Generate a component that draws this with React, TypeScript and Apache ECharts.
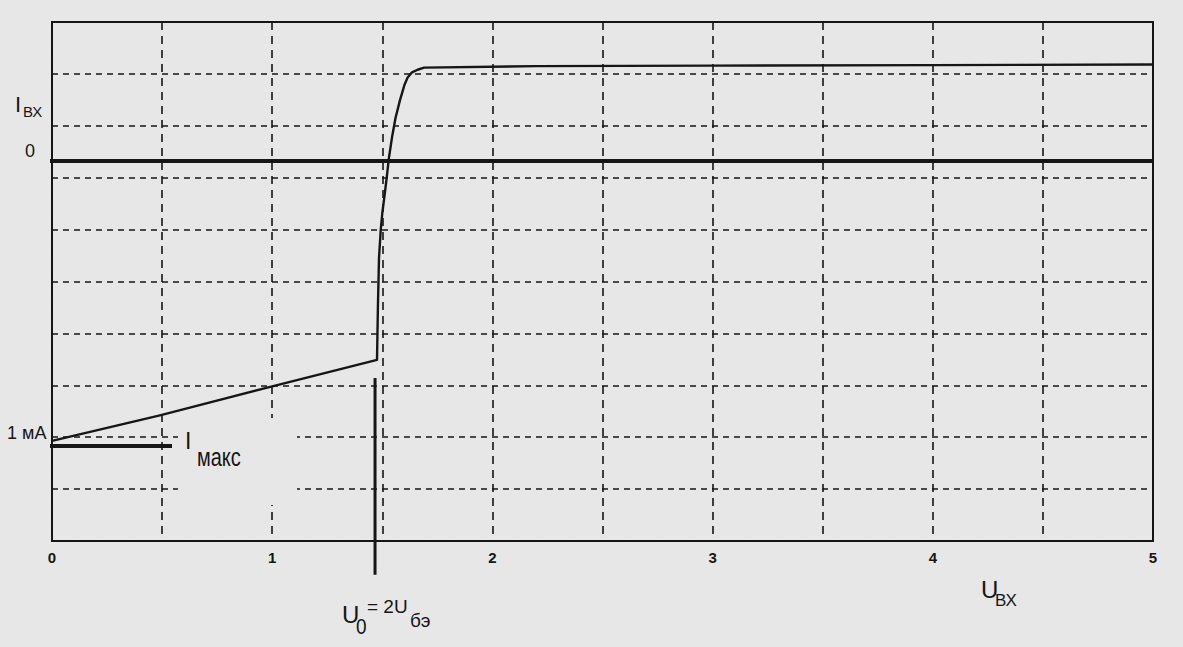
import React, { useEffect, useRef } from "react";
import * as echarts from "echarts";

// X axis: input voltage U_вх, 0..5 (gridlines every 0.5)
const xTickLabels = ["0", "1", "2", "3", "4", "5"];
// Y axis in grid divisions (0..10), current scale marked by labels only

// Input-current transfer curve (U in volts, I in divisions)
const curveU = [0, 0.49, 1.0, 1.476, 1.48, 1.485, 1.493, 1.5, 1.51, 1.52, 1.53, 1.545, 1.56, 1.58, 1.6, 1.615, 1.635, 1.66, 1.69, 2.2, 3.0, 4.0, 5.0];
const curveI = [1.93, 2.42, 2.98, 3.49, 4.5, 5.45, 6.0, 6.32, 6.65, 7.0, 7.38, 7.8, 8.15, 8.49, 8.78, 8.93, 9.03, 9.08, 9.12, 9.15, 9.16, 9.17, 9.18];

// Zero current reference line
const zeroU = [-0.02, 5.0];
const zeroI = [7.32, 7.32];

// I_макс marker line
const imaxU = [-0.02, 0.545];
const imaxI = [1.83, 1.83];

// U0 = 2U_бэ vertical marker
const u0U = [1.467, 1.467];
const u0I = [3.14, -0.65];

const BG = "#e7e7e7";
const INK = "#161616";
const FONT = "'Liberation Sans', Arial, sans-serif";

function pairs(xs: number[], ys: number[]) {
  return xs.map((x, i) => [x, ys[i]]);
}

export default function App() {
  const ref = useRef<HTMLDivElement>(null);
  useEffect(() => {
    if (!ref.current) return;
    const chart = echarts.init(ref.current, null, { renderer: "svg" });
    const txt = (text: string, x: number, y: number, size: number, extra: any = {}) => ({
      type: "text",
      x,
      y,
      z: 60,
      ...extra,
      style: {
        text,
        fill: INK,
        font: `${size}px ${FONT}`,
        fontSize: size,
        fontFamily: FONT,
        verticalAlign: "middle",
        align: "left",
        ...(extra.style || {}),
      },
    });
    chart.setOption({
      animation: false,
      backgroundColor: BG,
      grid: {
        left: 52,
        top: 22,
        width: 1101,
        height: 519,
        show: true,
        borderColor: INK,
        borderWidth: 2,
        backgroundColor: "transparent",
      },
      xAxis: {
        type: "value",
        min: 0,
        max: 5,
        interval: 0.5,
        axisLine: { show: false },
        axisTick: { show: false },
        axisLabel: {
          margin: 9,
          color: INK,
          fontSize: 15,
          fontWeight: "bold",
          fontFamily: FONT,
          formatter: (v: number) => {
            const s = String(v);
            return xTickLabels.includes(s) ? s : "";
          },
        },
        splitLine: {
          show: true,
          lineStyle: { color: INK, width: 1.6, type: [8, 6] },
        },
      },
      yAxis: {
        type: "value",
        min: 0,
        max: 10,
        interval: 1,
        axisLine: { show: false },
        axisTick: { show: false },
        axisLabel: { show: false },
        splitLine: {
          show: true,
          lineStyle: { color: INK, width: 1.6, type: [6, 5] },
        },
      },
      series: [
        {
          type: "line",
          name: "zero",
          data: pairs(zeroU, zeroI),
          symbol: "none",
          clip: false,
          lineStyle: { color: INK, width: 4 },
          z: 3,
        },
        {
          type: "line",
          name: "Iвх",
          data: pairs(curveU, curveI),
          symbol: "none",
          lineStyle: { color: INK, width: 2.4, join: "round" },
          z: 4,
        },
        {
          type: "line",
          name: "Iмакс",
          data: pairs(imaxU, imaxI),
          symbol: "none",
          clip: false,
          lineStyle: { color: INK, width: 4 },
          z: 4,
        },
        {
          type: "line",
          name: "U0",
          data: pairs(u0U, u0I),
          symbol: "none",
          clip: false,
          lineStyle: { color: INK, width: 3 },
          z: 4,
        },
      ],
      graphic: [
        {
          type: "rect",
          z: 50,
          shape: { x: 178, y: 418, width: 119, height: 87 },
          style: { fill: BG },
        },
        txt("I", 15, 104, 22),
        txt("ВХ", 23, 111, 15),
        txt("0", 30, 151, 18, { style: { align: "center" } }),
        txt("1 мА", 7, 433, 18),
        txt("I", 185, 441, 23),
        txt("макс", 197, 457, 20, { scaleY: 1.3 }),
        txt("U", 342, 614, 24),
        txt("0", 356, 626, 19, { scaleY: 1.2 }),
        txt("= 2U", 367, 606, 19),
        txt("бэ", 410, 620, 19),
        txt("U", 981, 589, 24),
        txt("ВХ", 995, 600, 17),
      ],
    });
    return () => chart.dispose();
  }, []);
  return (
    <div
      ref={ref}
      style={{ position: "fixed", left: 0, top: 0, width: 1183, height: 647 }}
    />
  );
}
